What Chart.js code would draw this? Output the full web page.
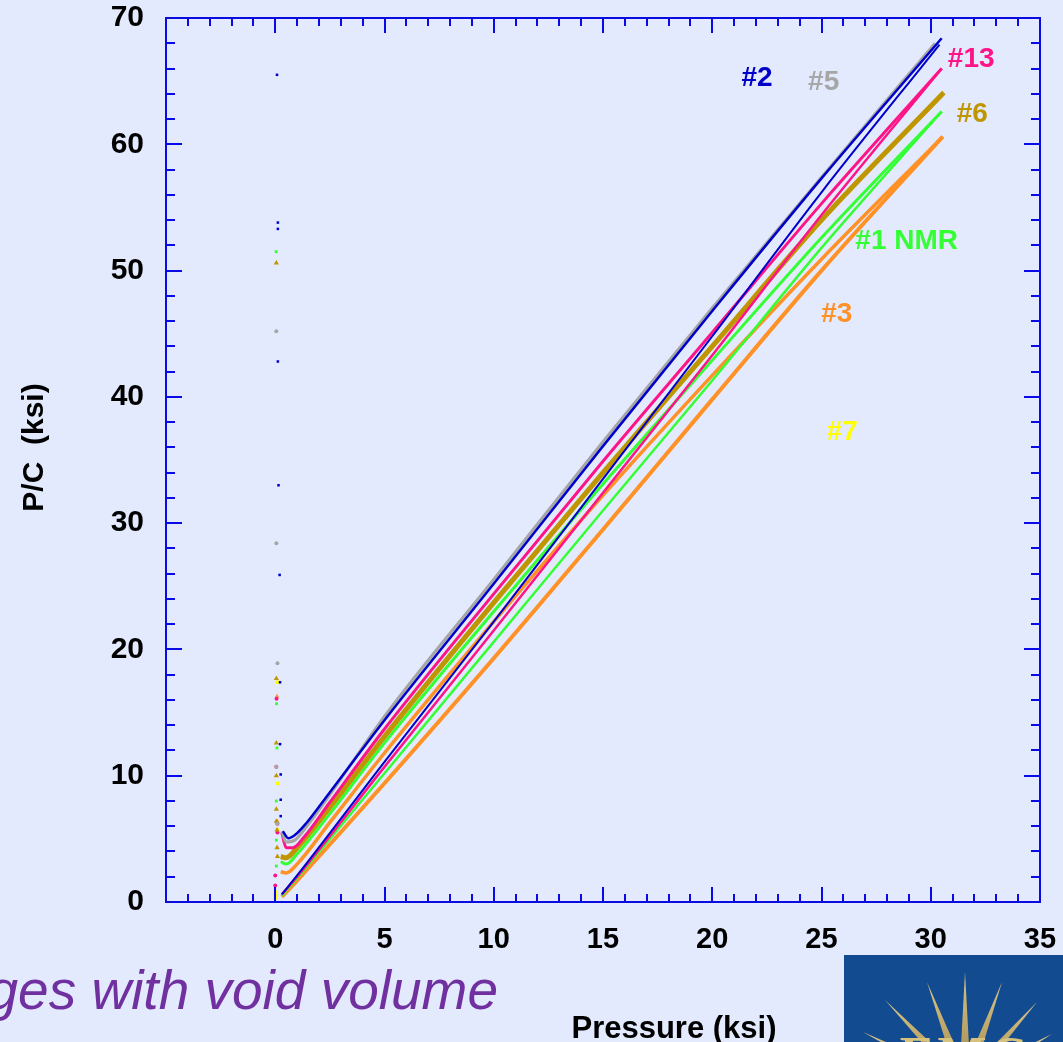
<!DOCTYPE html>
<html>
<head>
<meta charset="utf-8">
<title>P/C vs Pressure</title>
<script src="https://cdn.jsdelivr.net/npm/chart.js@4.4.1/dist/chart.umd.min.js"></script>
<style>
  html, body { margin: 0; padding: 0; background: #e3eafd; overflow: hidden; }
  #wrap { position: relative; width: 1063px; height: 1042px; overflow: hidden; }
  #chart { position: absolute; left: 0; top: 0; }
  .txt { position: absolute; white-space: nowrap; font-family: "Liberation Sans", Arial, sans-serif; }
  #xTitle { left: 674px; top: 1013px; transform: translateX(-50%); font-weight: bold; font-size: 31px; line-height: 30px; color: #000; }
  #note { right: 565px; top: 965px; font-style: italic; font-size: 55px; line-height: 50px; color: #7030a0; }
  #logo { position: absolute; left: 844px; top: 955px; }
</style>
</head>
<body>
<div id="wrap">
  <canvas id="chart" width="1063" height="1042"></canvas>
  <div class="txt" id="xTitle">Pressure (ksi)</div>
  <div class="txt" id="note">ges with void volume</div>
  <svg id="logo" width="219" height="87" viewBox="0 0 219 87">
    <defs>
      <linearGradient id="gold" x1="0" y1="0" x2="0" y2="1">
        <stop offset="0" stop-color="#d8c48a"/>
        <stop offset="1" stop-color="#9c8444"/>
      </linearGradient>
    </defs>
    <rect width="219" height="87" fill="#124b8f"/>
    <g id="rays" fill="url(#gold)"></g>
    <text x="121" y="118" text-anchor="middle" font-family="Liberation Serif, serif" font-weight="bold" font-size="52" letter-spacing="3" fill="#d6c27e">EMC</text>
  </svg>
</div>
<script>
// P/C (ksi) against pressure (ksi); each sample has an upper and a lower branch
// plus the scattered start-up readings close to zero pressure.

const s2Upper  = [[0.35,5.6],[0.6,5.05],[0.9,5.3],[1.4,6.2],[2.5,8.7],[5,14.4],[10,25.2],[15,36.1],[20,46.8],[25,57.3],[30.5,68.4]];
const s2Lower  = [[0.3,0.6],[1,2.1],[5,11.1],[10,22.2],[15,33.5],[20,44.8],[25,56.2],[30.4,67.9]];
const s5Upper  = [[0.3,5.6],[0.5,4.75],[0.9,4.9],[1.4,5.9],[2.5,8.5],[5,14.7],[10,25.55],[15,36.45],[20,47.05],[25,57.4],[30.2,68.0]];
const s13Upper = [[0.3,5.5],[0.5,4.3],[0.8,4.3],[1.3,5.1],[2.5,7.9],[5,13.7],[10,24.4],[15,34.9],[20,45.1],[25,55.3],[30.5,66.0]];
const s13Lower = [[0.3,0.6],[1,2.0],[5,10.7],[10,21.5],[15,32.4],[20,43.3],[25,54.4],[30.5,66.0]];
const s6Upper  = [[0.25,3.6],[0.5,3.5],[1,4.3],[2.5,7.5],[5,13.1],[10,23.7],[15,34.0],[20,44.0],[25,54.0],[30.6,64.1]];
const s1Upper  = [[0.25,3.2],[0.5,3.0],[1,3.8],[2.5,7.0],[5,12.6],[10,23.0],[15,33.1],[20,42.9],[25,52.6],[30.5,62.6]];
const s1Lower  = [[0.3,0.5],[1,1.9],[5,10.2],[10,20.6],[15,31.0],[20,41.3],[25,51.8],[30.5,62.6]];
const s3Upper  = [[0.25,2.4],[0.5,2.3],[1,3.0],[2.5,6.3],[5,11.8],[10,22.2],[15,32.2],[20,41.7],[25,50.9],[30.55,60.6]];
const s3Lower  = [[0.3,0.4],[1,1.7],[5,9.4],[10,19.3],[15,29.5],[20,39.8],[25,50.0],[30.55,60.6]];

const s2Dots  = [[0.08,65.5],[0.12,53.8],[0.12,53.3],[0.12,42.8],[0.15,33.0],[0.2,25.9],[0.22,17.4],[0.22,12.5],[0.25,10.1],[0.25,8.1],[0.25,6.8]];
const s5Dots  = [[0.05,45.2],[0.05,28.4],[0.1,18.9],[0.05,10.7],[0.1,6.2]];
const s6Dots  = [[0.05,50.6],[0.05,17.7],[0.05,12.6],[0.05,10.0],[0.05,7.35],[0.05,6.4],[0.08,5.7],[0.08,4.3],[0.1,3.6]];
const s1Dots  = [[0.04,51.5],[0.06,15.7],[0.08,12.2],[0.05,8.0],[0.05,4.9],[0.05,2.85]];
const s13Dots = [[0.06,16.1],[0.05,10.7],[0.1,6.2],[0.1,5.5],[0.0,2.1],[0.0,1.3]];
const s3Dots  = [[0.08,16.3],[0.1,6.4],[0.1,4.3],[0.0,0.0]];
const s7Dots  = [[0.1,17.4],[0.1,9.4],[0.1,5.7],[0.0,0.8],[0.0,0.5],[0.0,0.3]];

const xTicks = [0, 5, 10, 15, 20, 25, 30, 35];
const yTicks = [0, 10, 20, 30, 40, 50, 60, 70];

const sampleNames = ['#2', '#5', '#13', '#6', '#1 NMR', '#3', '#7'];
const nameAt = [[22.05,65.2],[25.1,64.9],[31.85,66.7],[31.9,62.4],[28.9,52.3],[25.7,46.5],[25.95,37.2]];

const C = {
  blue: '#0000c8', gray: '#a6a6a6', pink: '#ff1487', gold: '#bf9500',
  green: '#33ff33', orange: '#ff9126', yellow: '#ffff00', axis: '#0a0ae6'
};
const nameColors = [C.blue, C.gray, C.pink, C.gold, C.green, C.orange, C.yellow];

const pts = a => a.map(([x, y]) => ({ x, y }));

function curve(data, color, width) {
  return {
    data: pts(data), showLine: true, borderColor: color, borderWidth: width,
    pointRadius: 0, cubicInterpolationMode: 'monotone', fill: false
  };
}

function dots(data, color, style, r) {
  return {
    data: pts(data), showLine: false, pointStyle: style, pointRadius: r || 2,
    backgroundColor: color, borderColor: color, borderWidth: 0
  };
}

// first dataset ends up on top
const datasets = [
  dots(s2Dots, C.blue, 'rect', 1.8),
  dots(s5Dots, C.gray, 'circle', 2),
  dots(s6Dots, C.gold, 'triangle', 3),
  dots(s1Dots, C.green, 'rect', 2),
  dots(s13Dots, C.pink, 'circle', 2),
  dots(s3Dots, C.orange, 'triangle', 2.5),
  dots(s7Dots, C.yellow, 'rect', 2.5),
  curve(s2Upper, C.blue, 2.5),
  curve(s5Upper, C.gray, 3),
  curve(s2Lower, C.blue, 2),
  curve(s13Upper, C.pink, 3),
  curve(s13Lower, C.pink, 2.5),
  curve(s6Upper, C.gold, 5),
  curve(s1Upper, C.green, 3),
  curve(s1Lower, C.green, 2.5),
  curve(s3Upper, C.orange, 3.5),
  curve(s3Lower, C.orange, 4)
];

// frame with inward ticks on all four sides, and the sample names
const framePlugin = {
  id: 'frame',
  afterDatasetsDraw(chart) {
    const { ctx, chartArea: a, scales: { x, y } } = chart;
    ctx.save();
    ctx.strokeStyle = C.axis;
    ctx.lineWidth = 2;
    ctx.strokeRect(a.left, a.top, a.right - a.left, a.bottom - a.top);
    ctx.beginPath();
    for (let v = x.min; v <= x.max; v += 1) {
      const px = Math.round(x.getPixelForValue(v));
      const len = v % 5 === 0 ? 15 : 8;
      ctx.moveTo(px, a.bottom); ctx.lineTo(px, a.bottom - len);
      ctx.moveTo(px, a.top); ctx.lineTo(px, a.top + len);
    }
    for (let v = y.min; v <= y.max; v += 2) {
      const py = Math.round(y.getPixelForValue(v));
      const len = v % 10 === 0 ? 16 : 9;
      ctx.moveTo(a.left, py); ctx.lineTo(a.left + len, py);
      ctx.moveTo(a.right, py); ctx.lineTo(a.right - len, py);
    }
    ctx.stroke();

    ctx.font = 'bold 28px "Liberation Sans", Arial, sans-serif';
    ctx.textAlign = 'center';
    ctx.textBaseline = 'middle';
    sampleNames.forEach((name, i) => {
      ctx.fillStyle = nameColors[i];
      ctx.fillText(name, x.getPixelForValue(nameAt[i][0]), y.getPixelForValue(nameAt[i][1]));
    });
    ctx.restore();
  }
};

// gold starburst for the logo block
(function () {
  const g = document.getElementById('rays');
  const cx = 121, cy = 128;
  const tips = [[121,17],[83,27],[158,27],[41,45],[193,47],[19,77],[208,79]];
  let html = '';
  for (const [tx, ty] of tips) {
    const dx = tx - cx, dy = ty - cy, l = Math.hypot(dx, dy);
    const nx = -dy / l * 6, ny = dx / l * 6;
    html += `<polygon points="${tx},${ty} ${cx + nx},${cy + ny} ${cx - nx},${cy - ny}"/>`;
  }
  g.innerHTML = html;
})();

Chart.defaults.font.family = '"Liberation Sans", Arial, sans-serif';
Chart.defaults.color = '#000';

// labels may hang over the plot edges without shrinking the plot
const noOverhang = s => { s.paddingTop = 0; s.paddingBottom = 0; s.paddingLeft = 0; s.paddingRight = 0; };

new Chart(document.getElementById('chart'), {
  type: 'scatter',
  data: { datasets },
  plugins: [framePlugin],
  options: {
    responsive: false,
    animation: false,
    devicePixelRatio: 1,
    layout: { padding: { top: 18, right: 23, bottom: 0, left: 0 } },
    plugins: { legend: { display: false }, tooltip: { enabled: false } },
    scales: {
      x: {
        type: 'linear', min: -5, max: 35,
        afterBuildTicks: s => { s.ticks = xTicks.map(value => ({ value })); },
        afterFit: s => { s.height = 140; noOverhang(s); },
        grid: { display: false }, border: { display: false },
        ticks: {
          autoSkip: false, maxRotation: 0, padding: 13,
          font: { size: 29, weight: 'bold' }, color: '#000'
        }
      },
      y: {
        type: 'linear', min: 0, max: 70,
        afterBuildTicks: s => { s.ticks = yTicks.map(value => ({ value })); },
        afterFit: s => { s.width = 166; noOverhang(s); },
        grid: { display: false }, border: { display: false },
        ticks: { padding: 14, font: { size: 30, weight: 'bold' }, color: '#000' },
        title: {
          display: true, text: '   P/C  (ksi)', color: '#000',
          font: { size: 30, weight: 'bold', lineHeight: 1 }, padding: { top: 20 }
        }
      }
    }
  }
});
</script>
</body>
</html>
